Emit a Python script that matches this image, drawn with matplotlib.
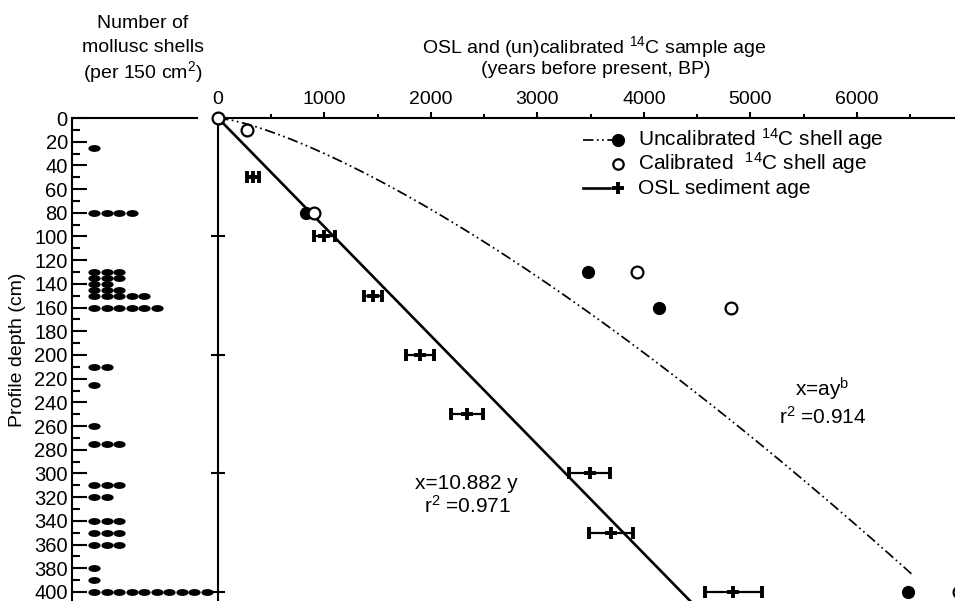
import numpy as np
import matplotlib
matplotlib.use('Agg')
import matplotlib.pyplot as plt
from matplotlib.path import Path
from matplotlib.ticker import MultipleLocator

plt.rcParams['font.family'] = ['Liberation Sans', 'DejaVu Sans']
plt.rcParams['mathtext.fontset'] = 'custom'
plt.rcParams['mathtext.rm'] = 'Liberation Sans'
plt.rcParams['mathtext.it'] = 'Liberation Sans:italic'

# mollusc shells per depth level (one dot per shell)
shell_depth = [25, 80, 130, 135, 140, 145, 150, 160, 210, 225,
               260, 275, 310, 320, 340, 350, 360, 380, 390, 400]
shell_count = [1, 4, 3, 3, 2, 3, 5, 6, 2, 1,
               1, 3, 3, 2, 3, 3, 3, 1, 1, 10]

# 14C shell ages (years BP)
uncal_depth = [80, 130, 160, 400]
uncal_age = [830, 3480, 4140, 6480]
cal_depth = [0, 10, 80, 130, 160, 400]
cal_age = [0, 270, 900, 3940, 4820, 6960]

# OSL sediment ages with errors
osl_depth = [50, 100, 150, 200, 250, 300, 350, 400]
osl_age = [330, 1000, 1460, 1900, 2340, 3490, 3690, 4840]
osl_err = [55, 100, 85, 130, 150, 195, 205, 270]

# fitted models
lin_slope = 10.882
lin_depth_max = 410
pow_a, pow_b = 82.0, 0.735
pow_depth_max = 385

W, H = 955, 601
DEPTH_BOTTOM = 407.6


def fx(px):
    return px / W


def fy(py):
    return 1 - py / H


fig = plt.figure(figsize=(W / 100, H / 100), dpi=100, facecolor='white')
axL = fig.add_axes([fx(72), 0, (215 - 72) / W, (H - 118) / H])
axR = fig.add_axes([fx(218), 0, (W - 218) / W, (H - 118) / H])

# ---- left panel: shell counts ----
circ = Path.unit_circle()
ellipse = Path(circ.vertices * np.array([1.0, 0.5]), circ.codes)
for d, n in zip(shell_depth, shell_count):
    xs = np.arange(1, n + 1)
    axL.plot(xs, [d] * n, linestyle='none', marker=ellipse, ms=7.8,
             color='black', clip_on=False)

axL.set_xlim(-0.76, 10.68)
axL.set_ylim(DEPTH_BOTTOM, 0)
axL.set_xticks([])
axL.set_yticks(range(0, 401, 20))
axL.yaxis.set_minor_locator(MultipleLocator(10))
axL.tick_params(axis='y', which='major', direction='in', length=11, width=1.5,
                labelsize=14.5, pad=3)
axL.tick_params(axis='y', which='minor', direction='in', length=6, width=1.5)
for s in ['right', 'bottom']:
    axL.spines[s].set_visible(False)
for s in ['left', 'top']:
    axL.spines[s].set_linewidth(1.5)
axL.spines['top'].set_bounds(-0.76, 9.24)
axL.patch.set_alpha(0)

# ---- right panel: ages ----
y_lin = np.array([0, lin_depth_max])
axR.plot(lin_slope * y_lin, y_lin, color='black', lw=1.9, zorder=2)
y_pow = np.linspace(0, pow_depth_max, 200)
axR.plot(pow_a * y_pow ** pow_b, y_pow, color='black', lw=1.25,
         dashes=(6, 2, 1, 2, 1, 2), zorder=2)

axR.errorbar(osl_age, osl_depth, xerr=osl_err, fmt='+', color='black',
             ms=9, mew=2.8, elinewidth=1.6, capsize=4.5, capthick=1.6, zorder=3)
axR.plot(uncal_age, uncal_depth, 'o', color='black', ms=8.5, zorder=4)
axR.plot(cal_age, cal_depth, 'o', mfc='white', mec='black', mew=1.6, ms=8.5,
         zorder=5, clip_on=True)
axR.plot(cal_age[:1], cal_depth[:1], 'o', mfc='white', mec='black', mew=1.6,
         ms=8.5, zorder=6, clip_on=False)

axR.set_xlim(0, 6923)
axR.set_ylim(DEPTH_BOTTOM, 0)
axR.xaxis.tick_top()
axR.set_xticks(range(0, 6001, 1000))
axR.xaxis.set_minor_locator(MultipleLocator(500))
axR.tick_params(axis='x', which='major', direction='out', length=4.5, width=1.5,
                labelsize=14, pad=3)
axR.tick_params(axis='x', which='minor', direction='out', length=3, width=1.5)
axR.set_yticks([100, 200, 300, 400])
axR.set_yticklabels([])
axR.tick_params(axis='y', which='major', direction='inout', length=10, width=1.5)
for s in ['right', 'bottom']:
    axR.spines[s].set_visible(False)
for s in ['left', 'top']:
    axR.spines[s].set_linewidth(1.5)
axR.patch.set_alpha(0)

# fit annotations
axR.text(2330, 313, 'x=10.882 y', ha='center', va='baseline', fontsize=15)
axR.text(2340, 333, r'r$\mathregular{^2}$ =0.971', ha='center', va='baseline', fontsize=15)
axR.text(5674, 235, r'x=ay$\mathregular{^b}$', ha='center', va='baseline', fontsize=15)
axR.text(5683, 258, r'r$\mathregular{^2}$ =0.914', ha='center', va='baseline', fontsize=15)

# ---- titles ----
fig.text(fx(143), fy(23), 'Number of', ha='center', va='center', fontsize=14)
fig.text(fx(143), fy(47), 'mollusc shells', ha='center', va='center', fontsize=14)
fig.text(fx(143), fy(72), r'(per 150 cm$\mathregular{^2}$)', ha='center', va='center', fontsize=14)
fig.text(fx(594), fy(47), r'OSL and (un)calibrated $\mathregular{^{14}}$C sample age',
         ha='center', va='center', fontsize=14)
fig.text(fx(596), fy(70), '(years before present, BP)', ha='center', va='center', fontsize=14)
fig.text(fx(18), fy(350), 'Profile depth (cm)', rotation=90, ha='center', va='center',
         fontsize=14)

# ---- legend (drawn by hand to mimic line + marker layout) ----
leg_rows = [
    (140, r'Uncalibrated $\mathregular{^{14}}$C shell age'),
    (164, r'Calibrated  $\mathregular{^{14}}$C shell age'),
    (188, 'OSL sediment age'),
]
tf = fig.transFigure
fig.add_artist(plt.Line2D([fx(583), fx(612)], [fy(140), fy(140)], color='black',
                          lw=1.25, dashes=(6, 2, 1, 2, 1, 2), transform=tf))
fig.add_artist(plt.Line2D([fx(618)], [fy(140)], marker='o', color='black', ms=8.5,
                          transform=tf))
fig.add_artist(plt.Line2D([fx(618)], [fy(164)], marker='o', mfc='white', mec='black',
                          mew=1.6, ms=7.5, transform=tf))
fig.add_artist(plt.Line2D([fx(583), fx(610)], [fy(188), fy(188)], color='black',
                          lw=1.9, transform=tf))
fig.add_artist(plt.Line2D([fx(618)], [fy(188)], marker='+', color='black', ms=9,
                          mew=2.8, transform=tf))
for py, label in leg_rows:
    fig.text(fx(638), fy(py), label, ha='left', va='baseline', fontsize=15,
             transform=tf).set_y(fy(py + 6))

fig.savefig('out.png', dpi=100, facecolor='white')
plt.close(fig)
